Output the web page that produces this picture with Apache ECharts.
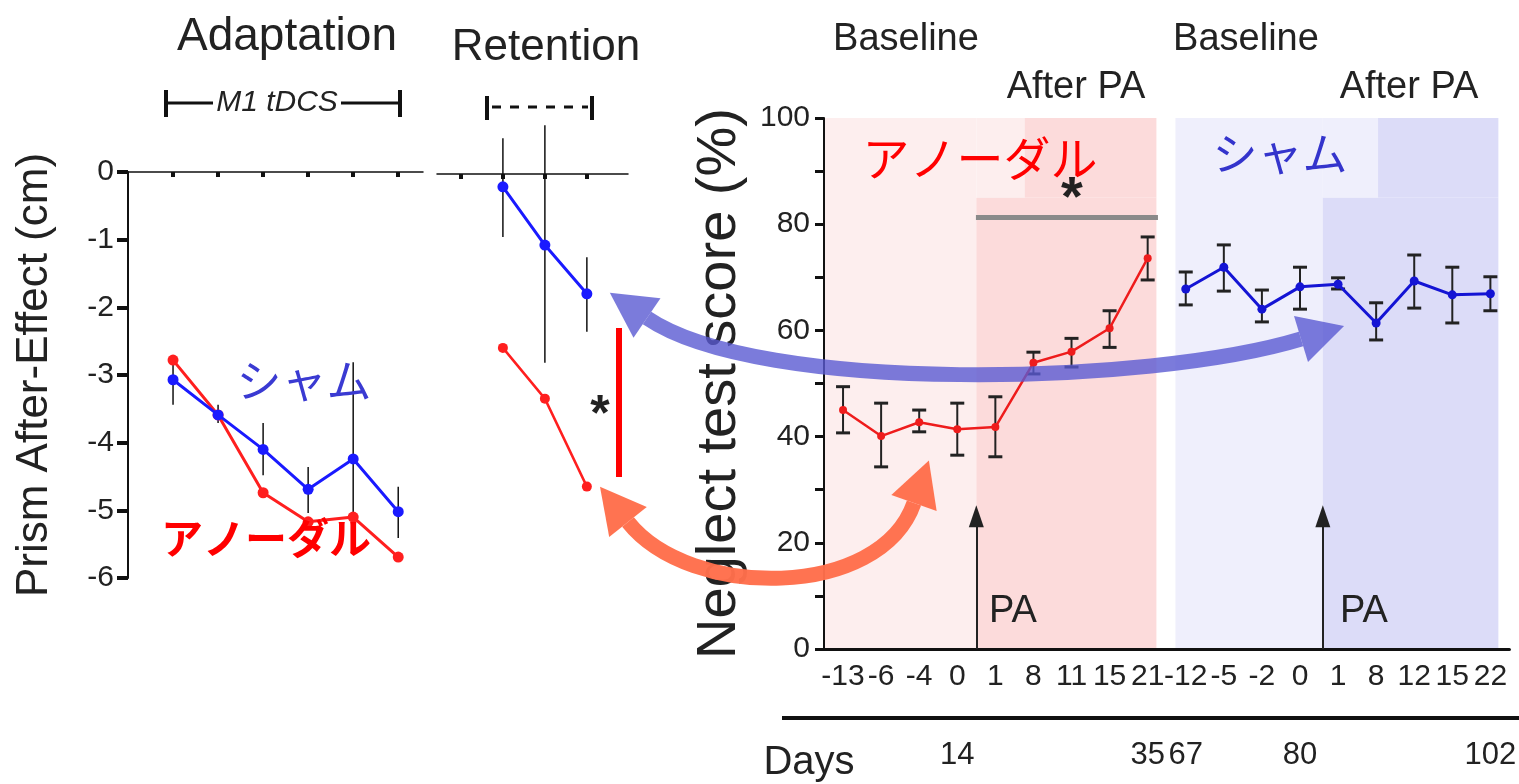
<!DOCTYPE html>
<html><head><meta charset="utf-8">
<script src="https://cdn.jsdelivr.net/npm/echarts@6.0.0/dist/echarts.min.js"></script>
<style>html,body{margin:0;padding:0;background:#fff}#c{width:1519px;height:784px}</style>
</head><body><div id="c"></div>
<script>
// ---------- DATA ----------
// Left: adaptation sessions (M1 tDCS) and retention
const adaptX = [1, 2, 3, 4, 5, 6];
const adaptSham = [-3.07, -3.59, -4.10, -4.69, -4.24, -5.02];
const adaptShamLo = [-3.44, -3.71, -4.48, -5.04, -5.14, -5.41];
const adaptShamHi = [-2.85, -3.44, -3.71, -4.36, -2.81, -4.65];
const adaptAnodal = [-2.78, -3.59, -4.74, -5.17, -5.10, -5.69];
const adaptYTicks = [0, -1, -2, -3, -4, -5, -6];

const retTicks = [0, 1, 2, 3];
const retX = [1, 2, 3];
const retSham = [-0.19, -1.05, -1.77];
const retShamLo = [-0.93, -2.79, -2.33];
const retShamHi = [0.53, 0.72, -1.23];
const retAnodal = [-2.57, -3.32, -4.62];

// Right: neglect test score
const dayCats = ['-13', '-6', '-4', '0', '1', '8', '11', '15', '21', '-12', '-5', '-2', '0', '1', '8', '12', '15', '22'];
const anodalIdx = [0, 1, 2, 3, 4, 5, 6, 7, 8];
const anodalScore = [45.0, 40.1, 42.7, 41.4, 41.8, 53.9, 56.0, 60.4, 73.6];
const anodalLo = [40.7, 34.3, 40.9, 36.5, 36.2, 51.8, 53.1, 56.8, 69.5];
const anodalHi = [49.4, 46.3, 45.0, 46.3, 47.5, 55.9, 58.5, 63.7, 77.6];
const shamIdx = [9, 10, 11, 12, 13, 14, 15, 16, 17];
const shamScore = [67.8, 71.9, 64.0, 68.2, 68.7, 61.4, 69.3, 66.7, 66.9];
const shamLo = [64.8, 67.4, 61.6, 64.0, 67.8, 58.2, 64.2, 61.4, 63.7];
const shamHi = [71.0, 76.1, 67.6, 71.9, 69.9, 65.2, 74.2, 71.9, 70.1];
const studyDayIdx = [3, 8, 9, 12, 17];
const studyDayLabels = ['14', '35', '67', '80', '102'];
const paIdx = [3.5, 12.6];
const sigLine = [3.49, 8.27, 81.4];

// ---------- STYLE ----------
const LAT = '"Liberation Sans", Arial, sans-serif';
const JP = '"Noto Sans CJK JP", "Noto Sans CJK SC", sans-serif';
const INK = '#222';
const RED = '#ff1f1f', BLUE = '#1a1aff';
const RRED = '#ee1c1c', RBLUE = '#1414d4';

function zip(xs, ys) { return xs.map((x, i) => [x, ys[i]]); }
function zip3(xs, a, b) { return xs.map((x, i) => [x, a[i], b[i]]); }

function errRender(capHalf, lw, color) {
  return function (params, api) {
    const x = api.value(0);
    const lo = api.coord([x, api.value(1)]);
    const hi = api.coord([x, api.value(2)]);
    const ch = [{ type: 'line', shape: { x1: lo[0], y1: lo[1], x2: hi[0], y2: hi[1] }, style: { stroke: color, lineWidth: lw } }];
    if (capHalf > 0) {
      ch.push({ type: 'line', shape: { x1: lo[0] - capHalf, y1: lo[1], x2: lo[0] + capHalf, y2: lo[1] }, style: { stroke: color, lineWidth: 3 } });
      ch.push({ type: 'line', shape: { x1: hi[0] - capHalf, y1: hi[1], x2: hi[0] + capHalf, y2: hi[1] }, style: { stroke: color, lineWidth: 3 } });
    }
    return { type: 'group', children: ch };
  };
}

function band(x1, y1, x2, y2, color) {
  return [{ coord: [x1, y1], itemStyle: { color: color, opacity: 1 } }, { coord: [x2, y2] }];
}
const PR = '#fdeeee', SR = '#fcdbdb', PB = '#efeffc', SB = '#dcdcf8';

function txt(t, x, y, size, opts) {
  opts = opts || {};
  return {
    type: 'text', z: 200, silent: true,
    style: {
      text: t, x: x, y: y, fill: opts.fill || INK, align: 'center', verticalAlign: 'middle',
      font: (opts.style || '') + ' ' + (opts.weight || 'normal') + ' ' + size + 'px ' + (opts.family || LAT)
    }
  };
}
function seg(x1, y1, x2, y2, w, color, dash) {
  return { type: 'line', z: 200, silent: true, shape: { x1, y1, x2, y2 }, style: { stroke: color || '#111', lineWidth: w, lineDash: dash || null } };
}
function curvedArrow(p0, c1, c2, p3, color, w, opacity) {
  function head(base, from) {
    const dx = base[0] - from[0], dy = base[1] - from[1];
    const L = Math.hypot(dx, dy), ux = dx / L, uy = dy / L;
    const len = 45, hw = 24;
    return {
      type: 'polygon', z: 150, silent: true,
      shape: { points: [[base[0] + ux * len, base[1] + uy * len], [base[0] - uy * hw, base[1] + ux * hw], [base[0] + uy * hw, base[1] - ux * hw]] },
      style: { fill: color, opacity: opacity }
    };
  }
  return [
    { type: 'bezierCurve', z: 150, silent: true,
      shape: { x1: p0[0], y1: p0[1], cpx1: c1[0], cpy1: c1[1], cpx2: c2[0], cpy2: c2[1], x2: p3[0], y2: p3[1] },
      style: { stroke: color, lineWidth: w, fill: null, opacity: opacity } },
    head(p0, c1), head(p3, c2)
  ];
}

const chart = echarts.init(document.getElementById('c'), null, { renderer: 'canvas' });

const graphics = [].concat(
  [
    txt('Adaptation', 287, 37, 46),
    txt('M1 tDCS', 277, 103, 30, { style: 'italic' }),
    seg(166, 90, 166, 117, 4), seg(166, 103, 213, 103, 3), seg(341, 103, 400, 103, 3), seg(400, 90, 400, 117, 4),
    txt('Retention', 546, 48, 44),
    seg(487, 96, 487, 120, 4), seg(592, 96, 592, 120, 4), seg(492, 107, 588, 107, 3, '#111', [9, 9]),
    seg(619, 328, 619, 477, 6, '#ff0000'),
    txt('*', 600, 416, 50, { weight: 'bold' }),
    txt('シャム', 304, 381, 45, { family: JP, fill: '#3a3ad2' }),
    txt('アノーダル', 266, 538, 42, { family: JP, fill: '#ff0000', weight: 'bold' }),
    txt('Baseline', 906, 40, 38),
    txt('After PA', 1076, 88, 38),
    txt('Baseline', 1246, 40, 38),
    txt('After PA', 1409, 88, 38),
    txt('アノーダル', 980, 158, 47, { family: JP, fill: '#ff0000' }),
    txt('シャム', 1280, 154, 45, { family: JP, fill: '#3434cc' }),
    txt('*', 1072, 200, 56, { weight: 'bold' }),
    txt('PA', 1013, 612, 38),
    txt('PA', 1364, 612, 38),
    txt('Days', 809, 763, 40),
    seg(782, 718, 1519, 718, 4, '#111')
  ],
  curvedArrow([647, 318], [760, 395], [1150, 385], [1301, 339], 'rgb(90,90,210)', 15, 0.8),
  curvedArrow([628, 522], [690, 600], [880, 600], [914, 503], '#ff6e4b', 15, 0.97)
);

const option = {
  animation: false,
  backgroundColor: '#fff',
  textStyle: { fontFamily: LAT },
  grid: [
    { left: 128, top: 172, width: 295, height: 406 },
    { left: 437, top: 174, width: 191, height: 406 },
    { left: 824, top: 118, width: 694, height: 531 }
  ],
  xAxis: [
    { type: 'value', gridIndex: 0, min: 0, max: 6.55, position: 'top',
      axisLine: { onZero: false, lineStyle: { color: '#111', width: 1.5 } },
      axisTick: { show: true, inside: true, length: 5, customValues: adaptX, lineStyle: { color: '#111', width: 4 } },
      axisLabel: { show: false }, splitLine: { show: false } },
    { type: 'value', gridIndex: 1, min: -0.57, max: 3.98, position: 'top',
      axisLine: { onZero: false, lineStyle: { color: '#111', width: 1.5 } },
      axisTick: { show: true, inside: true, length: 5, customValues: retTicks, lineStyle: { color: '#111', width: 4 } },
      axisLabel: { show: false }, splitLine: { show: false } },
    { type: 'category', gridIndex: 2, data: dayCats, position: 'bottom', boundaryGap: true, z: 3,
      axisLine: { onZero: false, lineStyle: { color: '#111', width: 3 } },
      axisTick: { alignWithLabel: true, length: 9, lineStyle: { color: '#111', width: 3 } },
      axisLabel: { interval: 0, margin: 13, fontSize: 30, color: INK, fontFamily: LAT } },
    { type: 'value', gridIndex: 2, min: -0.5, max: 17.5, show: false, position: 'top', axisLine: { onZero: false } },
    { type: 'category', gridIndex: 2, data: dayCats, position: 'bottom', offset: 69, boundaryGap: true,
      axisLine: { show: false, onZero: false }, axisTick: { show: false },
      axisLabel: { interval: 0, margin: 22, fontSize: 31, color: INK, fontFamily: LAT,
        formatter: function (v, i) { const k = studyDayIdx.indexOf(i); return k >= 0 ? studyDayLabels[k] : ''; } } }
  ],
  yAxis: [
    { type: 'value', gridIndex: 0, min: -6, max: 0, interval: 1,
      name: 'Prism After-Effect (cm)', nameLocation: 'middle', nameGap: 71,
      nameTextStyle: { fontSize: 44, color: INK, fontFamily: LAT },
      axisLine: { show: true, onZero: false, lineStyle: { color: '#111', width: 2 } },
      axisTick: { show: true, length: 11, lineStyle: { color: '#111', width: 4 } },
      axisLabel: { fontSize: 30, color: INK, margin: 14,
        formatter: function (v) { return adaptYTicks.indexOf(v) >= 0 ? String(v) : ''; } },
      splitLine: { show: false } },
    { type: 'value', gridIndex: 1, min: -6, max: 0, show: false, axisLine: { onZero: false } },
    { type: 'value', gridIndex: 2, min: 0, max: 100, interval: 10, z: 3,
      name: 'Neglect test score (%)', nameLocation: 'middle', nameGap: 76,
      nameTextStyle: { fontSize: 56, color: INK, fontFamily: LAT },
      axisLine: { show: true, onZero: false, lineStyle: { color: '#111', width: 2 } },
      axisTick: { show: true, length: 9, lineStyle: { color: '#111', width: 3 } },
      axisLabel: { fontSize: 30, color: INK, margin: 14,
        formatter: function (v) { return v % 20 === 0 ? String(v) : ''; } },
      splitLine: { show: false } }
  ],
  series: [
    // backgrounds (right panel)
    { type: 'line', xAxisIndex: 3, yAxisIndex: 2, data: [[-0.5, 0]], symbol: 'none', lineStyle: { width: 0 }, z: 1, silent: true,
      markArea: { silent: true, data: [
        band(-0.5, 0, 3.5, 100, PR), band(3.5, 85, 4.77, 100, PR),
        band(3.5, 0, 8.23, 85, SR), band(4.77, 85, 8.23, 100, SR),
        band(8.73, 0, 12.6, 100, PB), band(12.6, 85, 14.05, 100, PB),
        band(12.6, 0, 17.21, 85, SB), band(14.05, 85, 17.21, 100, SB)
      ] } },
    // PA arrows
    { type: 'line', xAxisIndex: 3, yAxisIndex: 2, data: [[-0.5, 0]], symbol: 'none', lineStyle: { width: 0 }, z: 5, silent: true,
      markLine: { silent: true, symbol: ['none', 'triangle'], symbolSize: [15, 22], label: { show: false },
        lineStyle: { color: '#222', width: 2, type: 'solid' },
        data: paIdx.map(function (p) { return [{ coord: [p, 0] }, { coord: [p, 25.0] }]; }) } },
    // significance line
    { type: 'line', xAxisIndex: 3, yAxisIndex: 2, data: [[-0.5, 0]], symbol: 'none', lineStyle: { width: 0 }, z: 5, silent: true,
      markLine: { silent: true, symbol: ['none', 'none'], label: { show: false },
        lineStyle: { color: '#8a8a8a', width: 5, type: 'solid' },
        data: [[{ coord: [sigLine[0], sigLine[2]] }, { coord: [sigLine[1], sigLine[2]] }]] } },
    // right error bars
    { type: 'custom', xAxisIndex: 2, yAxisIndex: 2, z: 6, renderItem: errRender(7, 2, '#222'),
      encode: { x: 0, y: [1, 2] }, data: zip3(anodalIdx, anodalLo, anodalHi) },
    { type: 'custom', xAxisIndex: 2, yAxisIndex: 2, z: 6, renderItem: errRender(7, 2, '#222'),
      encode: { x: 0, y: [1, 2] }, data: zip3(shamIdx, shamLo, shamHi) },
    { type: 'line', xAxisIndex: 2, yAxisIndex: 2, z: 7, data: zip(anodalIdx, anodalScore),
      symbol: 'circle', symbolSize: 8, itemStyle: { color: RRED }, lineStyle: { color: RRED, width: 2.5 } },
    { type: 'line', xAxisIndex: 2, yAxisIndex: 2, z: 7, data: zip(shamIdx, shamScore),
      symbol: 'circle', symbolSize: 9, itemStyle: { color: RBLUE }, lineStyle: { color: RBLUE, width: 3 } },
    // left adaptation
    { type: 'custom', xAxisIndex: 0, yAxisIndex: 0, z: 6, renderItem: errRender(0, 1.5, '#111'),
      encode: { x: 0, y: [1, 2] }, data: zip3(adaptX, adaptShamLo, adaptShamHi) },
    { type: 'line', xAxisIndex: 0, yAxisIndex: 0, z: 7, data: zip(adaptX, adaptAnodal),
      symbol: 'circle', symbolSize: 11, itemStyle: { color: RED }, lineStyle: { color: RED, width: 3 } },
    { type: 'line', xAxisIndex: 0, yAxisIndex: 0, z: 8, data: zip(adaptX, adaptSham),
      symbol: 'circle', symbolSize: 11, itemStyle: { color: BLUE }, lineStyle: { color: BLUE, width: 3 } },
    // retention
    { type: 'custom', xAxisIndex: 1, yAxisIndex: 1, z: 6, renderItem: errRender(0, 1.5, '#111'),
      encode: { x: 0, y: [1, 2] }, data: zip3(retX, retShamLo, retShamHi) },
    { type: 'line', xAxisIndex: 1, yAxisIndex: 1, z: 7, data: zip(retX, retAnodal),
      symbol: 'circle', symbolSize: 10, itemStyle: { color: RED }, lineStyle: { color: RED, width: 2.5 } },
    { type: 'line', xAxisIndex: 1, yAxisIndex: 1, z: 8, data: zip(retX, retSham),
      symbol: 'circle', symbolSize: 11, itemStyle: { color: BLUE }, lineStyle: { color: BLUE, width: 3 } }
  ],
  graphic: { elements: graphics }
};
chart.setOption(option);
</script></body></html>
